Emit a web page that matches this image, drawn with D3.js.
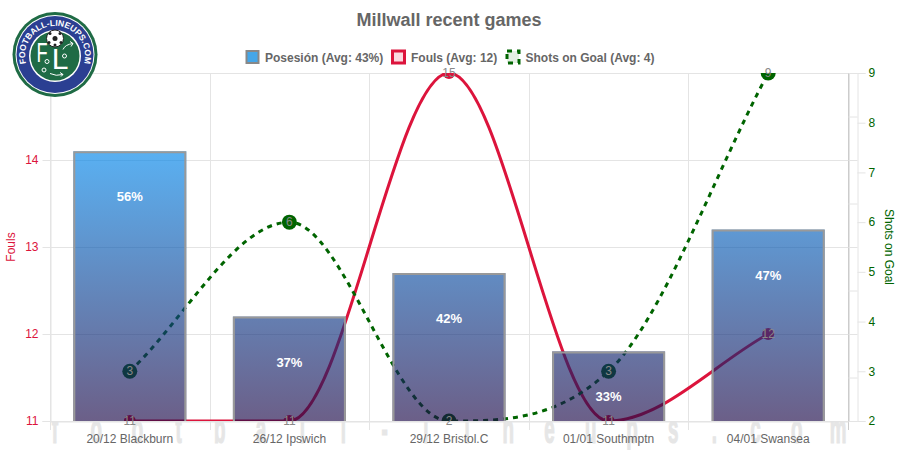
<!DOCTYPE html>
<html lang="en">

<head>
    <meta charset="UTF-8">
    <title>Millwall recent games</title>
    <script src="https://d3js.org/d3.v7.min.js"></script>
    <style>
        html, body { margin: 0; padding: 0; background: #fff; }
        svg { display: block; font-family: "Liberation Sans", Arial, sans-serif; }
    </style>
</head>

<body>
    <div id="chart"></div>

    <script>
        // values
        const categories = ["20/12 Blackburn", "26/12 Ipswich", "29/12 Bristol.C", "01/01 Southmptn", "04/01 Swansea"];
        const possession = [56, 37, 42, 33, 47];
        const fouls = [11, 11, 15, 11, 12];
        const shots = [3, 6, 2, 3, 9];

        const foulTicks = [11, 12, 13, 14, 15];
        const shotTicks = [2, 3, 4, 5, 6, 7, 8, 9];
        const possessionTicks = [25, 30, 35, 40, 45, 50, 55, 60, 65];
        const legendItems = ["Posesión (Avg: 43%)", "Fouls (Avg: 12)", "Shots on Goal (Avg: 4)"];
        const watermark = "football-lineups.com".split("");

        const width = 900, height = 450;
        const plotL = 50, plotR = 848, plotT = 73, plotB = 421;
        const red = "#dc143c", green = "#006400", gridColor = "#e4e4e4", textColor = "#666";

        const svg = d3.select("#chart").append("svg")
            .attr("width", width)
            .attr("height", height);

        const defs = svg.append("defs");

        const x = d3.scaleBand().domain(categories).range([plotL, plotR]);
        const yFouls = d3.scaleLinear().domain([11, 15]).range([plotB, plotT]);
        const yShots = d3.scaleLinear().domain([2, 9]).range([plotB, plotT]);
        const yPoss = d3.scaleLinear().domain([25, 65]).range([plotB, plotT]);

        // the gradient runs from the top of the tallest bar to the baseline
        const grad = defs.append("linearGradient")
            .attr("id", "barFill")
            .attr("gradientUnits", "userSpaceOnUse")
            .attr("x1", 0).attr("x2", 0)
            .attr("y1", yPoss(d3.max(possession))).attr("y2", plotB);
        grad.append("stop").attr("offset", 0).attr("stop-color", "rgb(0,134,235)").attr("stop-opacity", 0.65);
        grad.append("stop").attr("offset", 1).attr("stop-color", "rgb(28,9,72)").attr("stop-opacity", 0.65);

        defs.append("clipPath").attr("id", "plotClip")
            .append("rect")
            .attr("x", plotL).attr("y", plotT)
            .attr("width", plotR - plotL).attr("height", plotB - plotT);

        // Monotone curve with end tangents equal to the end secants
        function monotoneCurve(context) {
            let px, py;
            return {
                lineStart() { px = []; py = []; },
                lineEnd() {
                    const n = px.length;
                    const d = d3.range(n - 1).map(i => (py[i + 1] - py[i]) / (px[i + 1] - px[i]));
                    const m = d3.range(n).map(i => {
                        if (i === 0) return d[0];
                        if (i === n - 1) return d[n - 2];
                        if (d[i - 1] === 0 || d[i] === 0 || Math.sign(d[i - 1]) !== Math.sign(d[i])) return 0;
                        return (d[i - 1] + d[i]) / 2;
                    });
                    for (let i = 0; i < n - 1; i++) {
                        if (d[i] === 0) { m[i] = 0; m[i + 1] = 0; continue; }
                        const a = m[i] / d[i], b = m[i + 1] / d[i];
                        const s = a * a + b * b;
                        if (s > 9) {
                            const t = 3 / Math.sqrt(s);
                            m[i] = a * t * d[i];
                            m[i + 1] = b * t * d[i];
                        }
                    }
                    context.moveTo(px[0], py[0]);
                    for (let i = 0; i < n - 1; i++) {
                        const h = (px[i + 1] - px[i]) / 3;
                        context.bezierCurveTo(px[i] + h, py[i] + m[i] * h, px[i + 1] - h, py[i + 1] - m[i + 1] * h, px[i + 1], py[i + 1]);
                    }
                },
                areaStart() {},
                areaEnd() {},
                point(a, b) { px.push(+a); py.push(+b); }
            };
        }

        // Watermark sits behind everything, the white plot background hides its top
        const wmX = d3.scalePoint().domain(d3.range(watermark.length)).range([55, 838]);
        svg.append("g").selectAll("text")
            .data(watermark)
            .join("text")
            .attr("transform", (d, i) => `translate(${wmX(i)},443) scale(0.47,1)`)
            .attr("text-anchor", "middle")
            .attr("font-size", 40)
            .attr("font-weight", "bold")
            .attr("fill", "#e6e6e6")
            .attr("stroke", "#e6e6e6")
            .attr("stroke-width", 1.2)
            .text(d => d);

        svg.append("rect")
            .attr("x", 0).attr("y", plotT)
            .attr("width", width).attr("height", plotB - plotT)
            .attr("fill", "#fff");

        // Grid
        const grid = svg.append("g").attr("stroke", gridColor).attr("stroke-width", 1);
        grid.selectAll(".h")
            .data(foulTicks)
            .join("line")
            .attr("x1", plotL).attr("x2", 857)
            .attr("y1", d => Math.round(yFouls(d)) + 0.5)
            .attr("y2", d => Math.round(yFouls(d)) + 0.5);
        grid.selectAll(".v")
            .data(categories)
            .join("line")
            .attr("x1", d => Math.round(x(d)) + 0.5)
            .attr("x2", d => Math.round(x(d)) + 0.5)
            .attr("y1", plotT).attr("y2", 430);
        grid.append("line")
            .attr("x1", plotR + 0.5).attr("x2", plotR + 0.5)
            .attr("y1", plotT).attr("y2", plotB + 9)
            .attr("stroke", "#ccc");

        // Axes
        function styleAxis(g, color, lineColor) {
            g.select(".domain").attr("stroke", lineColor);
            g.selectAll(".tick line").attr("stroke", lineColor);
            g.selectAll(".tick text").attr("fill", color).attr("font-size", 12).attr("font-family", "inherit");
        }

        svg.append("g")
            .attr("transform", `translate(${plotL + 0.5},0)`)
            .call(d3.axisLeft(yFouls).tickValues(foulTicks).tickFormat(d3.format("d")).tickSize(8).tickPadding(4))
            .call(styleAxis, red, gridColor);

        svg.append("g")
            .attr("transform", `translate(${plotR + 0.5},0)`)
            .call(d3.axisRight(yPoss).tickValues(possessionTicks).tickFormat("").tickSize(9))
            .call(styleAxis, textColor, gridColor)
            .call(g => g.select(".domain").attr("stroke", "#ccc"));

        svg.append("g")
            .attr("transform", "translate(857.5,0)")
            .call(d3.axisRight(yShots).tickValues(shotTicks).tickFormat(d3.format("d")).tickSize(8).tickPadding(3))
            .call(styleAxis, green, gridColor);

        svg.append("g")
            .attr("transform", `translate(0,${plotB + 0.5})`)
            .call(d3.axisBottom(x).tickSize(0).tickPadding(13))
            .call(g => g.select(".domain").attr("stroke", gridColor))
            .call(g => g.selectAll(".tick text").attr("fill", textColor).attr("font-size", 12).attr("font-family", "inherit"));

        svg.append("text")
            .attr("transform", "translate(15,247) rotate(-90)")
            .attr("text-anchor", "middle")
            .attr("font-size", 12)
            .attr("fill", red)
            .text("Fouls");

        svg.append("text")
            .attr("transform", "translate(885,247) rotate(90)")
            .attr("text-anchor", "middle")
            .attr("font-size", 12)
            .attr("fill", green)
            .text("Shots on Goal");

        // Lines
        const cx = d => x(d) + x.bandwidth() / 2;
        const plot = svg.append("g").attr("clip-path", "url(#plotClip)");

        const foulLine = d3.line()
            .x((d, i) => cx(categories[i]))
            .y(d => yFouls(d))
            .curve(monotoneCurve);
        const shotLine = d3.line()
            .x((d, i) => cx(categories[i]))
            .y(d => yShots(d))
            .curve(monotoneCurve);

        plot.append("path")
            .attr("d", foulLine(fouls))
            .attr("fill", "none")
            .attr("stroke", red)
            .attr("stroke-width", 3);
        plot.append("path")
            .attr("d", shotLine(shots))
            .attr("fill", "none")
            .attr("stroke", green)
            .attr("stroke-width", 3)
            .attr("stroke-dasharray", "5 5");

        plot.selectAll(".foulPt")
            .data(fouls)
            .join("circle")
            .attr("cx", (d, i) => cx(categories[i]))
            .attr("cy", d => yFouls(d))
            .attr("r", 6)
            .attr("fill", red);
        plot.selectAll(".shotPt")
            .data(shots)
            .join("circle")
            .attr("cx", (d, i) => cx(categories[i]))
            .attr("cy", d => yShots(d))
            .attr("r", 7.5)
            .attr("fill", green);

        // Bars go over the lines, that is why the lines look darker inside them
        const barW = 113, barBorder = 2;
        const bars = svg.append("g");
        bars.selectAll("rect")
            .data(possession)
            .join("rect")
            .attr("x", (d, i) => cx(categories[i]) - barW / 2)
            .attr("y", d => yPoss(d))
            .attr("width", barW)
            .attr("height", d => plotB - yPoss(d))
            .attr("fill", "url(#barFill)");
        // border is inset, no line along the baseline
        bars.selectAll("path")
            .data(possession)
            .join("path")
            .attr("d", (d, i) => {
                const c = cx(categories[i]);
                const half = barW / 2 - barBorder / 2;
                return `M${c - half},${plotB}V${yPoss(d) + barBorder / 2}H${c + half}V${plotB}`;
            })
            .attr("fill", "none")
            .attr("stroke", "#999")
            .attr("stroke-width", barBorder);

        bars.selectAll("text")
            .data(possession)
            .join("text")
            .attr("x", (d, i) => cx(categories[i]))
            .attr("y", d => yPoss(d) + 50)
            .attr("text-anchor", "middle")
            .attr("font-size", 13)
            .attr("font-weight", "bold")
            .attr("fill", "#fff")
            .text(d => d + "%");

        // Point labels
        const ptLabels = svg.append("g")
            .attr("font-size", 12)
            .attr("text-anchor", "middle")
            .attr("fill", "#888");
        ptLabels.selectAll(".f")
            .data(fouls)
            .join("text")
            .attr("x", (d, i) => cx(categories[i]))
            .attr("y", d => yFouls(d) + 4)
            .text(d => d);
        ptLabels.selectAll(".s")
            .data(shots)
            .join("text")
            .attr("x", (d, i) => cx(categories[i]))
            .attr("y", d => yShots(d) + 4)
            .text(d => d);

        // Title and legend
        svg.append("text")
            .attr("x", 449).attr("y", 26)
            .attr("text-anchor", "middle")
            .attr("font-size", 18)
            .attr("font-weight", "bold")
            .attr("fill", textColor)
            .text("Millwall recent games");

        const legendX = [246.5, 392.5, 507];
        const swatches = [
            { fill: "#44a6e8", stroke: "#888", width: 2, dash: null },
            { fill: "#fbd9e0", stroke: red, width: 3, dash: null },
            { fill: "#e3efe3", stroke: green, width: 3, dash: "5 5" }
        ];
        const legend = svg.append("g").selectAll("g")
            .data(legendItems)
            .join("g")
            .attr("transform", (d, i) => `translate(${legendX[i]},51)`);
        legend.append("rect")
            .attr("width", 12).attr("height", 12)
            .attr("fill", (d, i) => swatches[i].fill)
            .attr("stroke", (d, i) => swatches[i].stroke)
            .attr("stroke-width", (d, i) => swatches[i].width)
            .attr("stroke-dasharray", (d, i) => swatches[i].dash);
        legend.append("text")
            .attr("x", 18.5).attr("y", 10.5)
            .attr("font-size", 12)
            .attr("font-weight", "bold")
            .attr("fill", textColor)
            .text(d => d);

        // Logo
        const logo = svg.append("g").attr("transform", "translate(55,54.5)");
        logo.append("circle").attr("r", 42.5).attr("fill", "#1f6b45");
        logo.append("circle").attr("r", 39.5).attr("fill", "#fff");
        logo.append("circle").attr("r", 38.5).attr("fill", "#2b3f92");
        logo.append("circle").attr("cy", 1.5).attr("r", 26).attr("fill", "#fff");
        logo.append("circle").attr("cy", 1.5).attr("r", 24.5).attr("fill", "#1f6b45");
        defs.append("path").attr("id", "logoArc")
            .attr("d", "M-29,9A30,30 0 1 1 29,9");
        logo.append("text")
            .attr("font-size", 8.6)
            .attr("font-weight", "bold")
            .attr("fill", "#fff")
            .append("textPath")
            .attr("href", "#logoArc")
            .attr("startOffset", "50%")
            .attr("text-anchor", "middle")
            .text("FOOTBALL-LINEUPS.COM");
        logo.append("text")
            .attr("transform", "translate(-13,7.5) scale(0.65,1)")
            .attr("text-anchor", "middle")
            .attr("font-size", 28)
            .attr("fill", "#fff")
            .text("F");
        logo.append("text")
            .attr("x", 5).attr("y", 14.5)
            .attr("text-anchor", "middle")
            .attr("font-size", 30)
            .attr("fill", "#fff")
            .text("L");
        logo.append("circle").attr("cx", 0).attr("cy", -16).attr("r", 8.5).attr("fill", "#fff").attr("stroke", "#222").attr("stroke-width", 1);
        logo.append("circle").attr("cx", 0).attr("cy", -16).attr("r", 2.5).attr("fill", "#222");
        [[-5, -21], [5, -21], [-6, -12], [6, -12], [0, -9.5]].forEach(p => {
            logo.append("circle").attr("cx", p[0]).attr("cy", p[1]).attr("r", 1.5).attr("fill", "#222");
        });
        [[-8, 7], [9.5, 1.5], [-11, 15.5]].forEach(p => {
            logo.append("circle").attr("cx", p[0]).attr("cy", p[1]).attr("r", 2)
                .attr("fill", "none").attr("stroke", "#fff").attr("stroke-width", 1);
        });
        logo.append("path")
            .attr("d", "M8,-5Q10,-10 18,-11M15,-13L18,-11L16,-8M-5,19Q1,22 8,20M5,18L8,20L6,22")
            .attr("fill", "none")
            .attr("stroke", "#fff")
            .attr("stroke-width", 1);
    </script>
</body>

</html>
